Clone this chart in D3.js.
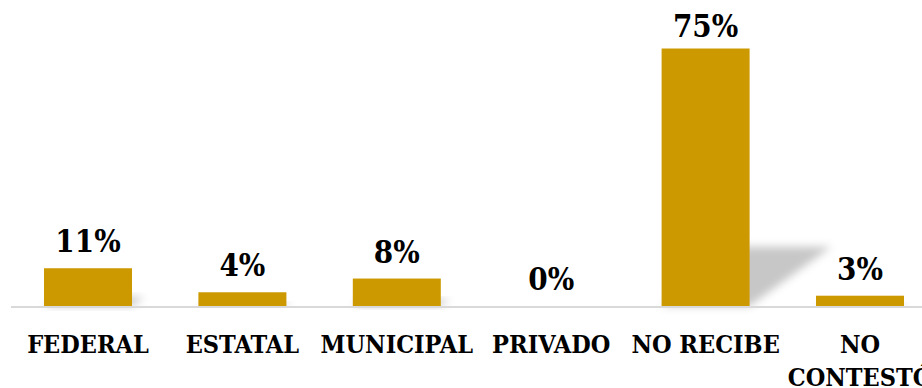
<!DOCTYPE html>
<html>
<head>
<meta charset="utf-8">
<script src="https://cdn.jsdelivr.net/npm/d3@7"></script>
<style>
  html, body { margin: 0; padding: 0; background: #ffffff; }
  svg { display: block; }
  .cat { font-family: "DejaVu Serif Condensed", "DejaVu Serif", serif; font-stretch: condensed; font-weight: bold; font-size: 25px; fill: #000; }
  .val { font-family: "DejaVu Serif Condensed", "DejaVu Serif", serif; font-stretch: condensed; font-weight: bold; font-size: 31px; fill: #000; }
</style>
</head>
<body>
<svg id="chart" width="922" height="388"></svg>
<script>
// Tipo de apoyo recibido (porcentaje de respuestas)
const categories = ["FEDERAL", "ESTATAL", "MUNICIPAL", "PRIVADO", "NO RECIBE", "NO CONTESTÓ"];
const values = [11, 4, 8, 0, 75, 3];
const valueLabels = ["11%", "4%", "8%", "0%", "75%", "3%"];

const width = 922, height = 388;
const barColor = "#CC9A00";

const svg = d3.select("#chart");

const x = d3.scaleBand()
  .domain(categories)
  .range([10.8, 937.2])
  .paddingInner(0.43)
  .paddingOuter(0.215);

const y = d3.scaleLinear()
  .domain([0, 75])
  .range([306, 48.5]);

// soft perspective shadow behind each bar
const defs = svg.append("defs");
defs.append("filter")
  .attr("id", "soft")
  .attr("x", "-50%").attr("y", "-50%").attr("width", "200%").attr("height", "200%")
  .append("feGaussianBlur").attr("stdDeviation", 4);

const shadowDepth = 0.23, shadowSlant = 1.38;
svg.append("g")
  .selectAll("path")
  .data(categories.map((c, i) => ({ c, v: values[i] })).filter(d => d.v > 0))
  .join("path")
  .attr("d", d => {
    const x0 = x(d.c), x1 = x0 + x.bandwidth();
    const base = y(0);
    const h = (y(0) - y(d.v)) * shadowDepth;
    const dx = h * shadowSlant;
    return `M${x0},${base}L${x1},${base}L${x1 + dx},${base - h}L${x0 + dx},${base - h}Z`;
  })
  .attr("fill", "#000")
  .attr("fill-opacity", 0.22)
  .attr("filter", "url(#soft)");

// axis baseline
const xAxis = d3.axisBottom(x).tickSize(0).tickFormat("");
svg.append("g")
  .attr("transform", `translate(0,${y(0) + 1})`)
  .call(xAxis)
  .call(g => g.select(".domain")
    .attr("d", `M11,0H${width}`)
    .attr("stroke", "#d9d9d9")
    .attr("stroke-width", 2));

// bars
svg.append("g")
  .selectAll("rect")
  .data(categories.map((c, i) => ({ c, v: values[i] })))
  .join("rect")
  .attr("x", d => x(d.c))
  .attr("y", d => y(d.v))
  .attr("width", x.bandwidth())
  .attr("height", d => y(0) - y(d.v))
  .attr("fill", barColor);

// value labels above bars
svg.append("g")
  .selectAll("text")
  .data(categories.map((c, i) => ({ c, v: values[i], t: valueLabels[i] })))
  .join("text")
  .attr("class", "val")
  .attr("text-anchor", "middle")
  .attr("x", d => x(d.c) + x.bandwidth() / 2)
  .attr("y", d => Math.max(y(d.v) - 16, 37))
  .text(d => d.t);

// category labels, wrapped onto two lines where needed
const wrapped = { "NO CONTESTÓ": ["NO", "CONTESTÓ"] };
svg.append("g")
  .selectAll("text")
  .data(categories)
  .join("text")
  .attr("class", "cat")
  .attr("text-anchor", "middle")
  .attr("x", d => x(d) + x.bandwidth() / 2)
  .attr("y", 353)
  .each(function (d) {
    const lines = wrapped[d] || [d];
    d3.select(this).selectAll("tspan")
      .data(lines)
      .join("tspan")
      .attr("x", x(d) + x.bandwidth() / 2)
      .attr("dy", (l, i) => i === 0 ? 0 : 33)
      .text(l => l);
  });
</script>
</body>
</html>
